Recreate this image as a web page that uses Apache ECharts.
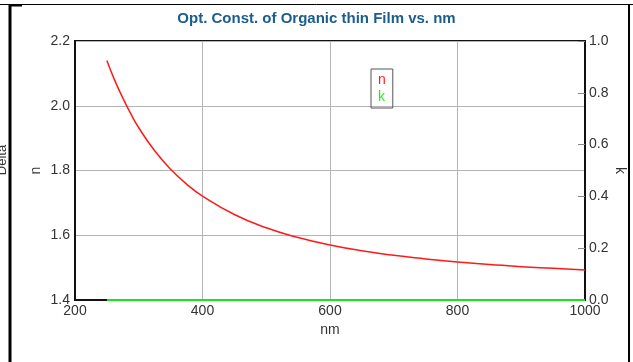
<!DOCTYPE html>
<html><head><meta charset="utf-8">
<script src="https://cdn.jsdelivr.net/npm/echarts@6/dist/echarts.min.js"></script>
<style>html,body{margin:0;padding:0;background:#fff}#c{width:633px;height:362px}</style>
</head><body><div id="c"></div>
<script>
var wavelengths = [250, 262, 275, 287, 300, 325, 350, 375, 400, 450, 500, 550, 600, 650, 700, 750, 800, 850, 900, 950, 1000];
var nValues = [2.140, 2.080, 2.024, 1.977, 1.932, 1.861, 1.804, 1.758, 1.721, 1.664, 1.623, 1.593, 1.570, 1.552, 1.538, 1.527, 1.517, 1.510, 1.503, 1.498, 1.493];
var kWavelengths = [250, 1000];
var kValues = [0, 0];
var xTicks = [200, 400, 600, 800, 1000];
var nTicks = [1.4, 1.6, 1.8, 2.0, 2.2];
var kTicks = [0.0, 0.2, 0.4, 0.6, 0.8, 1.0];
var titleText = 'Opt. Const. of Organic thin Film vs. nm';

var font = 'Liberation Sans, Arial, sans-serif';
var fs = 14;
var chart = echarts.init(document.getElementById('c'), null, {renderer: 'canvas'});
chart.setOption({
  animation: false,
  backgroundColor: '#fff',
  title: {text: titleText, left: 'center', top: 6, textStyle: {color: '#1b5e8c', fontSize: 15, fontWeight: 'bold', fontFamily: font}},
  grid: {left: 75, right: 48, top: 41, bottom: 62, show: true, borderColor: '#111', borderWidth: 2, outerBoundsMode: 'none', containLabel: false},
  legend: {
    orient: 'vertical', left: 371, top: 69, icon: 'none', itemWidth: 0, itemHeight: 13, itemGap: 3,
    padding: [4, 7, 4, 7], borderColor: '#555', borderWidth: 1,
    textStyle: {fontFamily: font, fontSize: fs, padding: [0, 0, 0, -5]},
    data: [{name: 'n', textStyle: {color: '#ff2020'}}, {name: 'k', textStyle: {color: '#20ee20'}}]
  },
  xAxis: {
    type: 'value', min: xTicks[0], max: xTicks[xTicks.length - 1], interval: 200,
    name: 'nm', nameLocation: 'middle', nameGap: 23, nameMoveOverlap: false,
    nameTextStyle: {color: '#333', fontSize: fs, fontFamily: font},
    axisLine: {lineStyle: {color: '#111', width: 2}},
    axisTick: {show: false},
    axisLabel: {color: '#333', fontSize: fs, fontFamily: font, margin: 4, formatter: function (v) { return String(v); }},
    splitLine: {show: true, lineStyle: {color: '#b4b4b4', width: 1}}
  },
  yAxis: [{
    type: 'value', min: nTicks[0], max: nTicks[nTicks.length - 1], interval: 0.2,
    name: 'n', nameLocation: 'middle', nameGap: 32, nameRotate: 90, nameMoveOverlap: false,
    nameTextStyle: {color: '#333', fontSize: fs, fontFamily: font},
    axisLine: {show: true, lineStyle: {color: '#111', width: 2}},
    axisTick: {show: false},
    axisLabel: {color: '#333', fontSize: fs, fontFamily: font, margin: 5, formatter: function (v) { return v.toFixed(1); }},
    splitLine: {show: true, lineStyle: {color: '#b4b4b4', width: 1}}
  }, {
    type: 'value', position: 'right', min: kTicks[0], max: kTicks[kTicks.length - 1], interval: 0.2,
    name: 'k', nameLocation: 'middle', nameGap: 28, nameRotate: -90, nameMoveOverlap: false,
    nameTextStyle: {color: '#333', fontSize: fs, fontFamily: font},
    axisLine: {show: true, lineStyle: {color: '#111', width: 2}},
    axisTick: {show: true, inside: true, length: 7, lineStyle: {color: '#888'}},
    axisLabel: {color: '#333', fontSize: fs, fontFamily: font, margin: 4, formatter: function (v) { return v.toFixed(1); }},
    splitLine: {show: false}
  }],
  series: [{
    name: 'n', type: 'line', yAxisIndex: 0, smooth: true, showSymbol: false, z: 5,
    lineStyle: {color: '#ff1a1a', width: 1.5}, itemStyle: {color: '#ff1a1a'},
    data: wavelengths.map(function (w, i) { return [w, nValues[i]]; })
  }, {
    name: 'k', type: 'line', yAxisIndex: 1, showSymbol: false, z: 6, clip: false,
    lineStyle: {color: '#19e619', width: 2}, itemStyle: {color: '#19e619'},
    data: kWavelengths.map(function (w, i) { return [w, kValues[i]]; })
  }],
  graphic: [
    {type: 'line', shape: {x1: 0, y1: 4.5, x2: 633, y2: 4.5}, style: {stroke: '#000', lineWidth: 1}},
    {type: 'line', shape: {x1: 10, y1: 5, x2: 10, y2: 362}, style: {stroke: '#000', lineWidth: 3}},
    {type: 'line', shape: {x1: 10, y1: 5.5, x2: 22, y2: 5.5}, style: {stroke: '#000', lineWidth: 2}},
    {type: 'line', shape: {x1: 629, y1: 4, x2: 629, y2: 362}, style: {stroke: '#000', lineWidth: 2}},
    {type: 'text', x: 2, y: 160, rotation: Math.PI / 2, style: {text: 'Delta', fill: '#333', font: '13px ' + font, textAlign: 'center', textVerticalAlign: 'middle'}}
  ]
});
</script></body></html>
